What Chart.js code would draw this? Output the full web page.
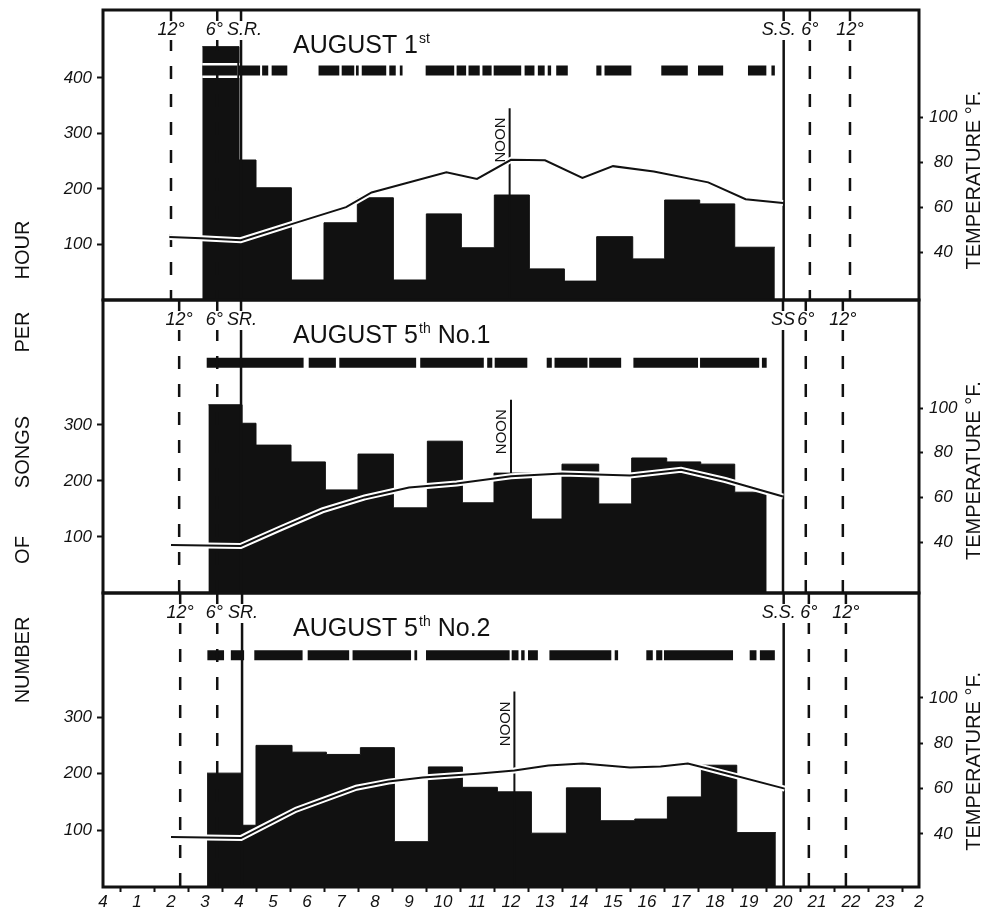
<!DOCTYPE html>
<html lang="en">
<head>
  <meta charset="UTF-8">
  <title>Number of songs per hour - August</title>
  <script src="https://cdn.jsdelivr.net/npm/chart.js"></script>
  <style>
    body {
      margin: 0;
      background: #fff;
    }

    #wrap {
      position: relative;
      width: 990px;
      height: 912px;
      overflow: hidden;
    }

    #wrap canvas {
      position: absolute;
      left: 0;
    }

    .ytitle {
      position: absolute;
      left: 22px;
      font: 20px "Liberation Sans", sans-serif;
      color: #111;
      white-space: nowrap;
      transform: translate(-50%, -50%) rotate(-90deg);
    }
  </style>
</head>
<body>
  <div id="wrap">
    <canvas id="p0" width="990" height="305" style="top:0"></canvas>
    <canvas id="p1" width="990" height="315" style="top:290px"></canvas>
    <canvas id="p2" width="990" height="329" style="top:583px"></canvas>
    <span class="ytitle" style="top:250px">HOUR</span>
    <span class="ytitle" style="top:332px">PER</span>
    <span class="ytitle" style="top:452px">SONGS</span>
    <span class="ytitle" style="top:550px">OF</span>
    <span class="ytitle" style="top:660px">NUMBER</span>
  </div>

  <script>
    // hour labels along the bottom, 0 to 24
    const hourLabels = ['4', '1', '2', '3', '4', '5', '6', '7', '8', '9', '10', '11', '12',
      '13', '14', '15', '16', '17', '18', '19', '20', '21', '22', '23', '2'];
    const countTicks = [[100, 200, 300, 400], [100, 200, 300], [100, 200, 300]];
    const tempTicks = [40, 60, 80, 100];

    // bar boundaries (hour) and songs counted in each bar
    const aug1Edges = [2.92, 4.0, 4.5, 5.54, 6.5, 7.48, 8.54, 9.51, 10.54, 11.51, 12.54, 13.57, 14.52, 15.58, 16.52, 17.55, 18.58, 19.76];
    const aug1Songs = [456, 252, 202, 36, 139, 184, 36, 155, 94, 189, 56, 34, 114, 74, 180, 173, 95];
    const aug5aEdges = [3.1, 4.09, 4.5, 5.53, 6.54, 7.5, 8.54, 9.54, 10.57, 11.5, 12.6, 13.5, 14.58, 15.55, 16.58, 17.58, 18.58, 19.52];
    const aug5aSongs = [336, 303, 264, 234, 184, 248, 152, 271, 161, 214, 132, 230, 159, 241, 234, 230, 180];
    const aug5bEdges = [3.06, 4.09, 4.5, 5.56, 6.57, 7.57, 8.57, 9.57, 10.57, 11.6, 12.6, 13.63, 14.63, 15.64, 16.6, 17.6, 18.64, 19.79];
    const aug5bSongs = [201, 109, 250, 238, 234, 246, 80, 212, 176, 168, 95, 175, 117, 120, 159, 215, 96];

    // temperature readings, deg F
    const aug1TempHours = [1.95, 2.9, 4.05, 5.5, 7.15, 7.9, 10.1, 11.0, 12.0, 13.0, 14.1, 15.0, 16.2, 17.8, 18.9, 20.0];
    const aug1Temps = [46.7, 46.2, 45.3, 52.2, 60, 66.5, 75.5, 72.5, 81, 80.8, 73, 78.2, 75.8, 71, 63.5, 61.8];
    const aug5aTempHours = [2.0, 4.05, 5.2, 6.45, 7.7, 9.0, 10.4, 12.0, 13.5, 15.5, 17.0, 18.3, 20.0];
    const aug5aTemps = [38.7, 38.3, 46, 54.2, 60, 64.4, 66.2, 69.5, 70.7, 69.8, 72.4, 67.8, 60.4];
    const aug5bTempHours = [2.0, 4.06, 5.68, 7.45, 8.4, 9.4, 11.0, 12.1, 13.1, 14.1, 15.5, 16.4, 17.2, 17.9, 20.05];
    const aug5bTemps = [38.7, 38.2, 50.7, 60.4, 63.1, 64.9, 66.6, 68, 70.2, 71.1, 69.3, 69.8, 71.1, 68.4, 60];

    // singing spells drawn as the broken band above the bars [start, end]
    const aug1Singing = [[2.92, 3.95], [4.0, 4.62], [4.68, 4.86], [4.96, 5.42],
      [6.34, 6.95], [7.02, 7.39], [7.44, 7.52], [7.61, 8.33], [8.42, 8.61], [8.73, 8.81],
      [9.49, 10.33], [10.4, 10.68], [10.75, 11.08], [11.16, 11.43], [11.49, 12.3], [12.4, 12.69],
      [12.79, 12.99], [13.08, 13.18], [13.33, 13.67], [14.51, 14.66], [14.75, 15.54],
      [16.42, 17.2], [17.5, 18.24], [18.97, 19.51], [19.66, 19.76]];
    const aug5aSinging = [[3.05, 5.9], [6.05, 6.85], [6.95, 9.21], [9.33, 11.2], [11.3, 11.45],
      [11.52, 12.48], [13.05, 13.2], [13.28, 14.25], [14.3, 15.24], [15.6, 17.5], [17.56, 19.3], [19.38, 19.52]];
    const aug5bSinging = [[3.07, 3.56], [3.76, 4.15], [4.45, 5.87], [6.02, 7.24], [7.34, 9.06], [9.16, 9.24],
      [9.5, 11.96], [12.02, 12.22], [12.3, 12.4], [12.5, 12.79], [13.13, 14.95], [15.05, 15.15],
      [15.98, 16.17], [16.27, 16.45], [16.5, 18.53], [19.02, 19.22], [19.32, 19.76]];
    const singingLevel = [413, 411, 409];

    // twilight (12 and 6 degrees), sunrise, noon, sunset, in hours
    const dawn12 = [2.0, 2.24, 2.27];
    const dawn6 = [3.36, 3.36, 3.36];
    const sunrise = [4.06, 4.06, 4.09];
    const noon = [11.96, 12.0, 12.1];
    const sunset = [20.02, 20.0, 20.02];
    const dusk6 = [20.79, 20.67, 20.76];
    const dusk12 = [21.97, 21.76, 21.85];
    const noonTop = 345;

    const titles = ['AUGUST 1', 'AUGUST 5', 'AUGUST 5'];
    const titleSups = ['st', 'th', 'th'];
    const titleTails = ['', 'No.1', 'No.2'];
    const srLabels = ['S.R.', 'SR.', 'SR.'];
    const ssLabels = ['S.S.', 'SS', 'S.S.'];

    const days = [
      { edges: aug1Edges, songs: aug1Songs, th: aug1TempHours, t: aug1Temps, sing: aug1Singing },
      { edges: aug5aEdges, songs: aug5aSongs, th: aug5aTempHours, t: aug5aTemps, sing: aug5aSinging },
      { edges: aug5bEdges, songs: aug5bSongs, th: aug5bTempHours, t: aug5bTemps, sing: aug5bSinging },
    ];

    // axis ranges and canvas padding per panel
    const countMax = [522, 523, 519];
    const tempMin = [18.7, 17.2, 16.6];
    const tempMax = [147.6, 148.4, 146.3];
    const padBottom = [5, 12, 0];

    const INK = '#111';
    const FONT = '"Liberation Sans", sans-serif';
    Chart.defaults.font.family = FONT;
    Chart.defaults.color = INK;

    function stepPoints(edges, values) {
      const pts = values.map((v, k) => ({ x: edges[k], y: v }));
      pts.push({ x: edges[edges.length - 1], y: values[values.length - 1] });
      return pts;
    }

    function spellPoints(spells, level) {
      const pts = [];
      spells.forEach(([a, b]) => {
        pts.push({ x: a, y: level }, { x: b, y: level }, { x: b, y: null });
      });
      return pts;
    }

    function vline(h, top) {
      return [{ x: h, y: top }, { x: h, y: 0 }];
    }

    // fixed axis sizes, no label overhang, so the plot boxes line up
    function fixSize(w, h) {
      return s => {
        if (w !== null) s.width = w;
        if (h !== null) s.height = h;
        s.paddingTop = 0;
        s.paddingBottom = 0;
        s.paddingLeft = 0;
        s.paddingRight = 0;
      };
    }

    const decor = {
      id: 'decor',
      afterDatasetsDraw(chart) {
        const i = chart.options.plugins.decor.panel;
        const { ctx, chartArea: a, scales: { x, y, t } } = chart;
        ctx.save();

        // frame
        ctx.lineWidth = 3;
        ctx.strokeStyle = INK;
        ctx.strokeRect(a.left, a.top, a.right - a.left, a.bottom - a.top);

        // labels over the twilight / sun lines
        ctx.font = 'italic 18px ' + FONT;
        ctx.textBaseline = 'middle';
        const ly = a.top + 20;
        const label = (text, px, align) => {
          const w = ctx.measureText(text).width;
          const x0 = align === 'center' ? px - w / 2 : align === 'right' ? px - w : px;
          ctx.fillStyle = '#fff';
          ctx.fillRect(x0 - 1, ly - 9, w + 2, 19);
          ctx.fillStyle = INK;
          ctx.textAlign = 'left';
          ctx.fillText(text, x0, ly);
        };
        label('12°', x.getPixelForValue(dawn12[i]), 'center');
        label('6°', x.getPixelForValue(dawn6[i]) - 3, 'center');
        label(srLabels[i], x.getPixelForValue(sunrise[i]) - 14, 'left');
        label(ssLabels[i], x.getPixelForValue(sunset[i]) + 12, 'right');
        label('6°', x.getPixelForValue(dusk6[i]), 'center');
        label('12°', x.getPixelForValue(dusk12[i]), 'center');

        // panel title
        let tx = a.left + 190;
        const tyBase = a.top + 43;
        ctx.textBaseline = 'alphabetic';
        ctx.font = '25px ' + FONT;
        ctx.fillText(titles[i], tx, tyBase);
        tx += ctx.measureText(titles[i]).width + 1;
        ctx.font = '14px ' + FONT;
        ctx.fillText(titleSups[i], tx, tyBase - 10);
        tx += ctx.measureText(titleSups[i]).width + 7;
        ctx.font = '25px ' + FONT;
        ctx.fillText(titleTails[i], tx, tyBase);

        // NOON
        ctx.save();
        ctx.translate(x.getPixelForValue(noon[i]) - 9, y.getPixelForValue(288));
        ctx.rotate(-Math.PI / 2);
        ctx.font = '15px ' + FONT;
        ctx.textAlign = 'center';
        ctx.textBaseline = 'middle';
        ctx.fillText('NOON', 0, 0);
        ctx.restore();

        // temperature axis title
        ctx.save();
        ctx.translate(974, t.getPixelForValue(72));
        ctx.rotate(-Math.PI / 2);
        ctx.font = '20px ' + FONT;
        ctx.textAlign = 'center';
        ctx.textBaseline = 'middle';
        ctx.fillText('TEMPERATURE °F.', 0, 0);
        ctx.restore();

        ctx.restore();
      }
    };

    const tickFont = { family: FONT, size: 17, style: 'italic' };
    const halfHours = Array.from({ length: 49 }, (_, k) => k / 2);

    function makePanel(i) {
      const d = days[i];
      const top = countMax[i];
      const dashed = { borderColor: INK, borderWidth: 2.5, borderDash: [13, 15], pointRadius: 0, order: 3 };
      const solid = { borderColor: INK, borderWidth: 2.5, pointRadius: 0, order: 3 };
      const tempPts = d.th.map((h, k) => ({ x: h, y: d.t[k] }));

      return new Chart(document.getElementById('p' + i), {
        type: 'line',
        data: {
          datasets: [
            {
              data: stepPoints(d.edges, d.songs), stepped: true, fill: 'origin',
              backgroundColor: INK, borderColor: INK, borderWidth: 1, pointRadius: 0, order: 6
            },
            {
              data: spellPoints(d.sing, singingLevel[i]), borderColor: '#fff', borderWidth: 15,
              borderCapStyle: 'butt', pointRadius: 0, order: 5
            },
            {
              data: spellPoints(d.sing, singingLevel[i]), borderColor: INK, borderWidth: 10,
              borderCapStyle: 'butt', pointRadius: 0, order: 4
            },
            { ...dashed, data: vline(dawn12[i], top) },
            { ...dashed, data: vline(dawn6[i], top) },
            { ...dashed, data: vline(dusk6[i], top) },
            { ...dashed, data: vline(dusk12[i], top) },
            { ...solid, data: vline(sunrise[i], top) },
            { ...solid, data: vline(sunset[i], top) },
            { ...solid, borderWidth: 2, data: vline(noon[i], noonTop) },
            { data: tempPts, yAxisID: 't', borderColor: '#fff', borderWidth: 6, pointRadius: 0, order: 2 },
            { data: tempPts, yAxisID: 't', borderColor: INK, borderWidth: 2, pointRadius: 0, order: 1 },
          ],
        },
        options: {
          responsive: false,
          animation: false,
          events: [],
          layout: { padding: { top: 10, bottom: padBottom[i], left: 0, right: 0 } },
          plugins: {
            legend: { display: false },
            tooltip: { enabled: false },
            decor: { panel: i },
          },
          scales: {
            x: {
              type: 'linear', min: 0, max: 24, display: i === 2,
              afterBuildTicks: s => { s.ticks = halfHours.map(v => ({ value: v })); },
              afterFit: fixSize(null, i === 2 ? 25 : 0),
              border: { display: false },
              grid: {
                drawOnChartArea: false, tickLength: 5, tickWidth: 2,
                tickColor: c => Number.isInteger(c.tick.value) ? 'rgba(0,0,0,0)' : INK,
              },
              ticks: {
                autoSkip: false, maxRotation: 0, padding: 0, font: tickFont, color: INK,
                callback: v => Number.isInteger(v) ? hourLabels[v] : '',
              },
            },
            y: {
              type: 'linear', position: 'left', min: 0, max: top,
              afterBuildTicks: s => { s.ticks = countTicks[i].map(v => ({ value: v })); },
              afterFit: fixSize(103, null),
              border: { display: false },
              grid: { drawOnChartArea: false, tickLength: 6, tickWidth: 2, tickColor: INK },
              ticks: { padding: 5, font: tickFont, color: INK },
            },
            t: {
              type: 'linear', position: 'right', min: tempMin[i], max: tempMax[i],
              afterBuildTicks: s => { s.ticks = tempTicks.map(v => ({ value: v })); },
              afterFit: fixSize(71, null),
              border: { display: false },
              grid: { drawOnChartArea: false, tickLength: 4, tickWidth: 2, tickColor: INK },
              ticks: { padding: 6, crossAlign: 'center', font: tickFont, color: INK },
            },
          },
        },
        plugins: [decor],
      });
    }

    [0, 1, 2].forEach(makePanel);
  </script>
</body>
</html>
